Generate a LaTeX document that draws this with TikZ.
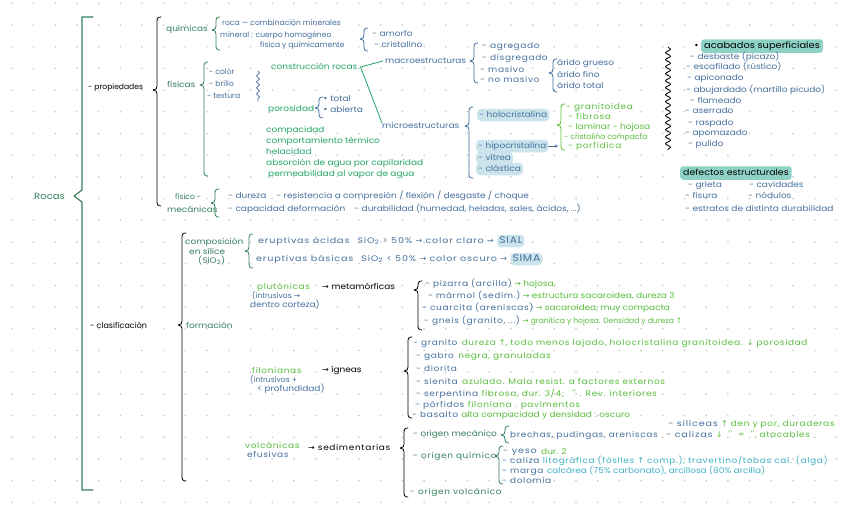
\documentclass[tikz,border=0pt]{standalone}
\usepackage{fontspec}
\setmainfont{Poppins}
\newfontfamily\symf{DejaVu Sans}
\newfontfamily\handf{Poppins}[FakeStretch=1.12]
\newfontfamily\handw{Poppins}[FakeStretch=1.12, LetterSpace=8]
\newfontfamily\handx{Poppins}[FakeStretch=1.2, LetterSpace=10]
\usetikzlibrary{decorations.pathmorphing,arrows.meta}
\definecolor{cdg}{HTML}{347F5C}
\definecolor{cmg}{HTML}{22A567}
\definecolor{cbg}{HTML}{58BE3C}
\definecolor{cbl}{HTML}{45709E}
\definecolor{ccy}{HTML}{3FB0C4}
\definecolor{chl}{HTML}{CBE4EC}
\definecolor{cteal}{HTML}{8ED2C6}
\definecolor{cdot}{HTML}{C6C6C6}
\newcommand\ra{{\symf →}}
\newcommand\up{{\symf ↑}}
\newcommand\dn{{\symf ↓}}
\newcommand\bul{{\symf •}}
\newcommand\cbr[5][black]{\draw[brk,#1] (#2+4,#3) .. controls (#2+0.5,#3) and (#2,#3+1.5) .. (#2,#3+5) -- (#2,#5-4) .. controls (#2,#5-1.5) and (#2-1,#5) .. (#2-4,#5) .. controls (#2-1,#5) and (#2,#5+1.5) .. (#2,#5+4) -- (#2,#4-5) .. controls (#2,#4-1.5) and (#2+0.5,#4) .. (#2+4,#4);}
\begin{document}
\begin{tikzpicture}[x=1pt,y=-1pt,
 tx/.style={anchor=west, inner sep=0pt, text height=5.8pt, text depth=1.7pt, font={\handf\fontsize{8}{9}\selectfont}},
 nar/.style={font={\rmfamily\fontsize{7.6}{9}\selectfont}},
 wid/.style={font={\handw\fontsize{8}{9}\selectfont}},
 xwid/.style={font={\handx\fontsize{8}{9}\selectfont}},
 tbl/.style={tx, text=cbl},
 tdg/.style={tx, text=cdg},
 tmg/.style={tx, text=cmg},
 tbg/.style={tx, text=cbg},
 tbk/.style={tx, text=black},
 tcy/.style={tx, text=ccy},
 hlb/.style={fill=chl, rounded corners=4pt, inner xsep=2pt, inner ysep=2.5pt},
 hlt/.style={fill=cteal, rounded corners=3pt, inner xsep=3pt, inner ysep=3pt},
 brk/.style={line width=0.8pt, line cap=round, line join=round},
 link/.style={line width=0.8pt, line cap=round}]
\useasboundingbox (0,0) rectangle (848,509);
\fill[white] (0,0) rectangle (848,509);
\foreach \i in {0,...,38}{\foreach \j in {0,...,23}{\fill[cdot] ({11.8+\i*21.7},{3.3+\j*21.7}) circle (0.9);}}

% ---------- main brackets
\draw[brk, cdg, line width=1.1pt] (93,17) -- (82,17) -- (82,190) -- (74,196) -- (82,202) -- (82,490) -- (93,490);
\node[tdg, font={\handf\fontsize{9}{10}\selectfont}] (rocas) at (34,197) {Rocas};
\node[tbk, nar] (prop) at (88,87) {- propiedades};
\node[tbk, font={\rmfamily\fontsize{8}{9}\selectfont}] (clas) at (90,326) {- clasificación};
\cbr{157}{17}{206}{90}
\cbr{182}{233}{481}{325}

% ---------- químicas
\node[tdg] (quim) at (166,29) {químicas};
\cbr[cdg]{216}{17}{50}{30}
\node[tbl, nar] (roca) at (222,23) {roca — combinación minerales};
\node[tbl, nar] (miner) at (220,35) {mineral : cuerpo homogéneo};
\node[tbl, nar] (fisq) at (260,45) {física y químicamente};
\cbr[cbl]{364}{28}{51}{39}
\node[tbl] (amorfo) at (372,34) {- amorfo};
\node[tbl] (crist) at (374,45) {- cristalino};

% ---------- físicas
\node[tdg] (fis) at (167,85) {físicas};
\cbr[cdg]{204}{62}{176}{85}
\node[tbl, nar] (color) at (209,72) {- color};
\node[tbl, nar] (brillo) at (209,84) {- brillo};
\node[tbl, nar] (textura) at (207,96) {- textura};
\draw[cbl, line width=0.7pt, decorate, decoration={snake, amplitude=1.5pt, segment length=6pt}] (258,71) -- (258,101);
\node[tmg] (constr) at (271,67) {construcción rocas};
\node[tmg] (poros) at (268,109) {porosidad};
\cbr[cbl]{319}{97}{118}{108}
\node[tbl] (total) at (323,99) {\bul\ total};
\node[tbl] (abierta) at (323,110) {\bul\ abierta};
\node[tmg] (compac) at (266,130) {compacidad};
\node[tmg] (termico) at (266,141) {comportamiento térmico};
\node[tmg] (helac) at (266,152) {helacidad};
\node[tmg] (absor) at (266,163) {absorción de agua por capilaridad};
\node[tmg] (perme) at (268,174) {permeabilidad al vapor de agua};

\node[tbl] (macro) at (385,61) {macroestructuras};
\node[tbl] (micro) at (382,126) {microestructuras};
\coordinate (cr) at ([xshift=3pt]constr.east);
\draw[cmg, link] (cr) -- ([xshift=-2pt]macro.west);
\draw[cmg, link] (cr) -- ([yshift=-1pt]micro.north west);

\cbr[cbl]{474}{43}{83}{61}
\node[tbl, wid] (agreg) at (482,46) {- agregado};
\node[tbl, wid] (disg) at (482,58) {- disgregado};
\node[tbl, wid] (masivo) at (480,70) {- masivo};
\node[tbl, wid] (nomasivo) at (480,80) {- no masivo};
\cbr[cbl]{553}{59}{92}{73}
\node[tbl] (grueso) at (557,63) {árido grueso};
\node[tbl] (fino) at (557,75) {árido fino};
\node[tbl] (aridot) at (557,86) {árido total};

\cbr[cbl]{469}{107}{178}{126}
\node[tbl, hlb] (holo) at (477,115) {- holocristalina};
\node[tbl, hlb] (hipo) at (476,146) {- hipocristalina};
\node[tbl, hlb] (vitrea) at (476,158) {- vítrea};
\node[tbl, hlb] (clast) at (476,169) {- clástica};
\coordinate (hipoend) at (558,146);
\draw[cbl, link, -{Stealth[length=3pt,width=3pt]}] (hipo.east) -- (hipoend);
\cbr[cbg]{561}{104}{150}{125}
\node[tbg, wid] (granit) at (566,107) {- granitoidea};
\node[tbg, wid] (fibrosa) at (568,117) {- fibrosa};
\node[tbg] (laminar) at (568,127) {- laminar - hojosa};
\node[tbg, nar] (cristc) at (564,137) {- cristalina compacta};
\node[tbg, wid] (porf) at (568,146) {- porfídica};

% ---------- físico-mecánicas
\node[tdg, nar] (fisico) at (175,197) {físico -};
\node[tdg] (mecan) at (167,210) {mecánicas};
\cbr[cdg]{215}{189}{217}{203}
\node[tbl] (dureza) at (228,196) {- dureza\hspace{10pt}- resistencia a compresión / flexión / desgaste / choque};
\node[tbl] (capac) at (228,209) {- capacidad deformación\hspace{9pt}- durabilidad (humedad, heladas, sales, ácidos, ...)};

% ---------- acabados
\draw[black, line width=0.8pt, decorate, decoration={snake, amplitude=2.5pt, segment length=7pt}] (668,47) -- (668,150);
\node[tbk] (bula) at (694,46) {\bul};
\node[tbk, hlt, font={\handf\fontsize{8.8}{10}\selectfont}] (acab) at (701,46) {acabados superficiales};
\node[tbl] (desb) at (690,57) {- desbaste (picazo)};
\node[tbl] (escaf) at (686,67) {- escafilado (rústico)};
\node[tbl] (apic) at (687,78) {- apiconado};
\node[tbl] (abuj) at (686,90) {- abujardado (martillo picudo)};
\node[tbl] (flam) at (690,101) {- flameado};
\node[tbl] (aserr) at (685,111) {- aserrado};
\node[tbl] (rasp) at (688,123) {- raspado};
\node[tbl] (apom) at (685,133) {- apomazado};
\node[tbl] (pulido) at (688,144) {- pulido};
\node[tbk, hlt, font={\handf\fontsize{8.4}{10}\selectfont}] (defec) at (680,173) {defectos estructurales};
\node[tbl] (grieta) at (688,185) {- grieta};
\node[tbl] (cavid) at (749,185) {- cavidades};
\node[tbl] (fisura) at (685,196) {- fisura};
\node[tbl] (nodul) at (748,196) {- nódulos};
\node[tbl] (estrat) at (685,209) {- estratos de distinta durabilidad};

% ---------- composición
\node[tdg] (comp1) at (185,242) {composición};
\node[tdg] (comp2) at (189,252) {en sílice};
\node[tdg] (comp3) at (198,261) {(SiO\textsubscript{2})};
\cbr[cdg]{249}{234}{268}{251}
\node[tbl, xwid] (acidas) at (258,241) {eruptivas ácidas\hspace{8pt}SiO\textsubscript{2} > 50\% \ra\ color claro \ra};
\node[tbl, hlb, font={\handw\fontsize{9.6}{11}\selectfont}] (sial) at ([xshift=3pt]acidas.east) {SIAL};
\node[tbl, xwid] (basicas) at (256,259) {eruptivas básicas\hspace{8pt}SiO\textsubscript{2} < 50\% \ra\ color oscuro \ra};
\node[tbl, hlb, font={\handw\fontsize{9.6}{11}\selectfont}] (sima) at ([xshift=3pt]basicas.east) {SIMA};

% ---------- formación
\node[tdg] (form) at (186,326) {formación};

\node[tbg, wid] (pluto) at (257,287) {plutónicas};
\node[tbl, nar] (pl2) at (252,296) {(intrusivos \ra};
\node[tbl] (pl3) at (250,305) {dentro corteza)};
\node[tbk] (meta) at (322,287) {\ra\ metamórficas};
\cbr{418}{281}{330}{290}
\node[tbl, wid] (piz) at (425,284) {- pizarra (arcilla)};
\node[tbg] (pizb) at ([xshift=2pt]piz.east) {\ra\ hojosa,};
\node[tbl, wid] (marm) at (428,296) {- mármol (sedim.)};
\node[tbg] (marmb) at ([xshift=2pt]marm.east) {\ra\ estructura sacaroidea, dureza 3};
\node[tbl, wid] (cuar) at (422,308) {- cuarcita (areniscas)};
\node[tbg] (cuarb) at ([xshift=2pt]cuar.east) {\ra\ sacaroidea, muy compacta};
\node[tbl, wid] (gneis) at (424,321) {- gneis (granito, ...)};
\node[tbg, nar] (gneisb) at ([xshift=2pt]gneis.east) {\ra\ granítica y hojosa. Densidad y dureza \up};

\node[tbg, wid] (filon) at (252,371) {filonianas};
\node[tbl, nar] (fi2) at (250,380) {(intrusivos +};
\node[tbl] (fi3) at (257,389) {< profundidad)};
\node[tbk] (igneas) at (322,370) {\ra\ ígneas};
\cbr{408}{337}{418}{371}
\node[tbl, wid] (granito) at (413,343) {- granito};
\node[tbg, wid] (granitob) at ([xshift=4pt]granito.east) {dureza \up, todo menos lajado, holocristalina granitoidea. \dn\ porosidad};
\node[tbl, wid] (gabro) at (416,356) {- gabro};
\node[tbg, wid] (gabrob) at ([xshift=4pt]gabro.east) {negra, granuladas};
\node[tbl, wid] (diorita) at (416,369) {- diorita};
\node[tbl, wid] (sienita) at (416,382) {- sienita};
\node[tbg, wid] (sienitab) at ([xshift=4pt]sienita.east) {azulado. Mala resist. a factores externos};
\node[tbl, wid] (serp) at (416,394) {- serpentina};
\node[tbg, wid] (serpb) at ([xshift=3pt]serp.east) {fibrosa, dur. 3/4;\hspace{8pt}''\hspace{4pt}. Rev. interiores};
\node[tbl, wid] (porfi) at (415,405) {- pórfidos};
\node[tbg, wid] (porfib) at ([xshift=3pt]porfi.east) {filoniana . pavimentos};
\node[tbl, wid] (basal) at (412,415) {- basalto};
\node[tbg] (basalb) at ([xshift=3pt]basal.east) {alta compacidad y densidad : oscuro};

\node[tbg, wid] (volc) at (245,446) {volcánicas};
\node[tbl, wid] (efus) at (247,455) {efusivas};
\node[tbk, wid] (sedim) at (308,448) {\ra\ sedimentarias};
\cbr{404}{428}{497}{448}
\node[tdg] (omec) at (413,434) {- origen mecánico};
\cbr[cdg]{505}{426}{443}{435}
\node[tbl, wid] (brech) at (510,435) {brechas, pudingas, areniscas};
\node[tbl, xwid] (silic) at (668,424) {- silíceas};
\node[tbg, wid] (silicb) at ([xshift=3pt]silic.east) {\up\ den y por, duraderas};
\node[tbl, xwid] (caliz) at (666,435) {- calizas};
\node[tbg, wid] (calizb) at ([xshift=3pt]caliz.east) {\dn\hspace{6pt}''\hspace{6pt}=\hspace{6pt}'', atacables};
\node[tdg, wid] (oquim) at (413,456) {- origen químico};
\cbr[cdg]{499}{446}{484}{456}
\node[tbl, xwid] (yeso) at (503,451) {- yeso};
\node[tbg] (yesob) at (541,452) {dur. 2};
\node[tbl, wid] (caliza) at (502,461) {- caliza};
\node[tcy, wid] (calizab) at ([xshift=3pt]caliza.east) {litográfica (fósiles \up\ comp.), travertino/tobas cal. (alga)};
\node[tbl, wid] (marga) at (502,471) {- marga};
\node[tcy] (margab) at ([xshift=3pt]marga.east) {calcárea (75\% carbonato), arcillosa (80\% arcilla)};
\node[tbl, wid] (dolom) at (502,481) {- dolomía};
\node[tdg, wid] (ovolc) at (410,492) {- origen volcánico};
\end{tikzpicture}
\end{document}
